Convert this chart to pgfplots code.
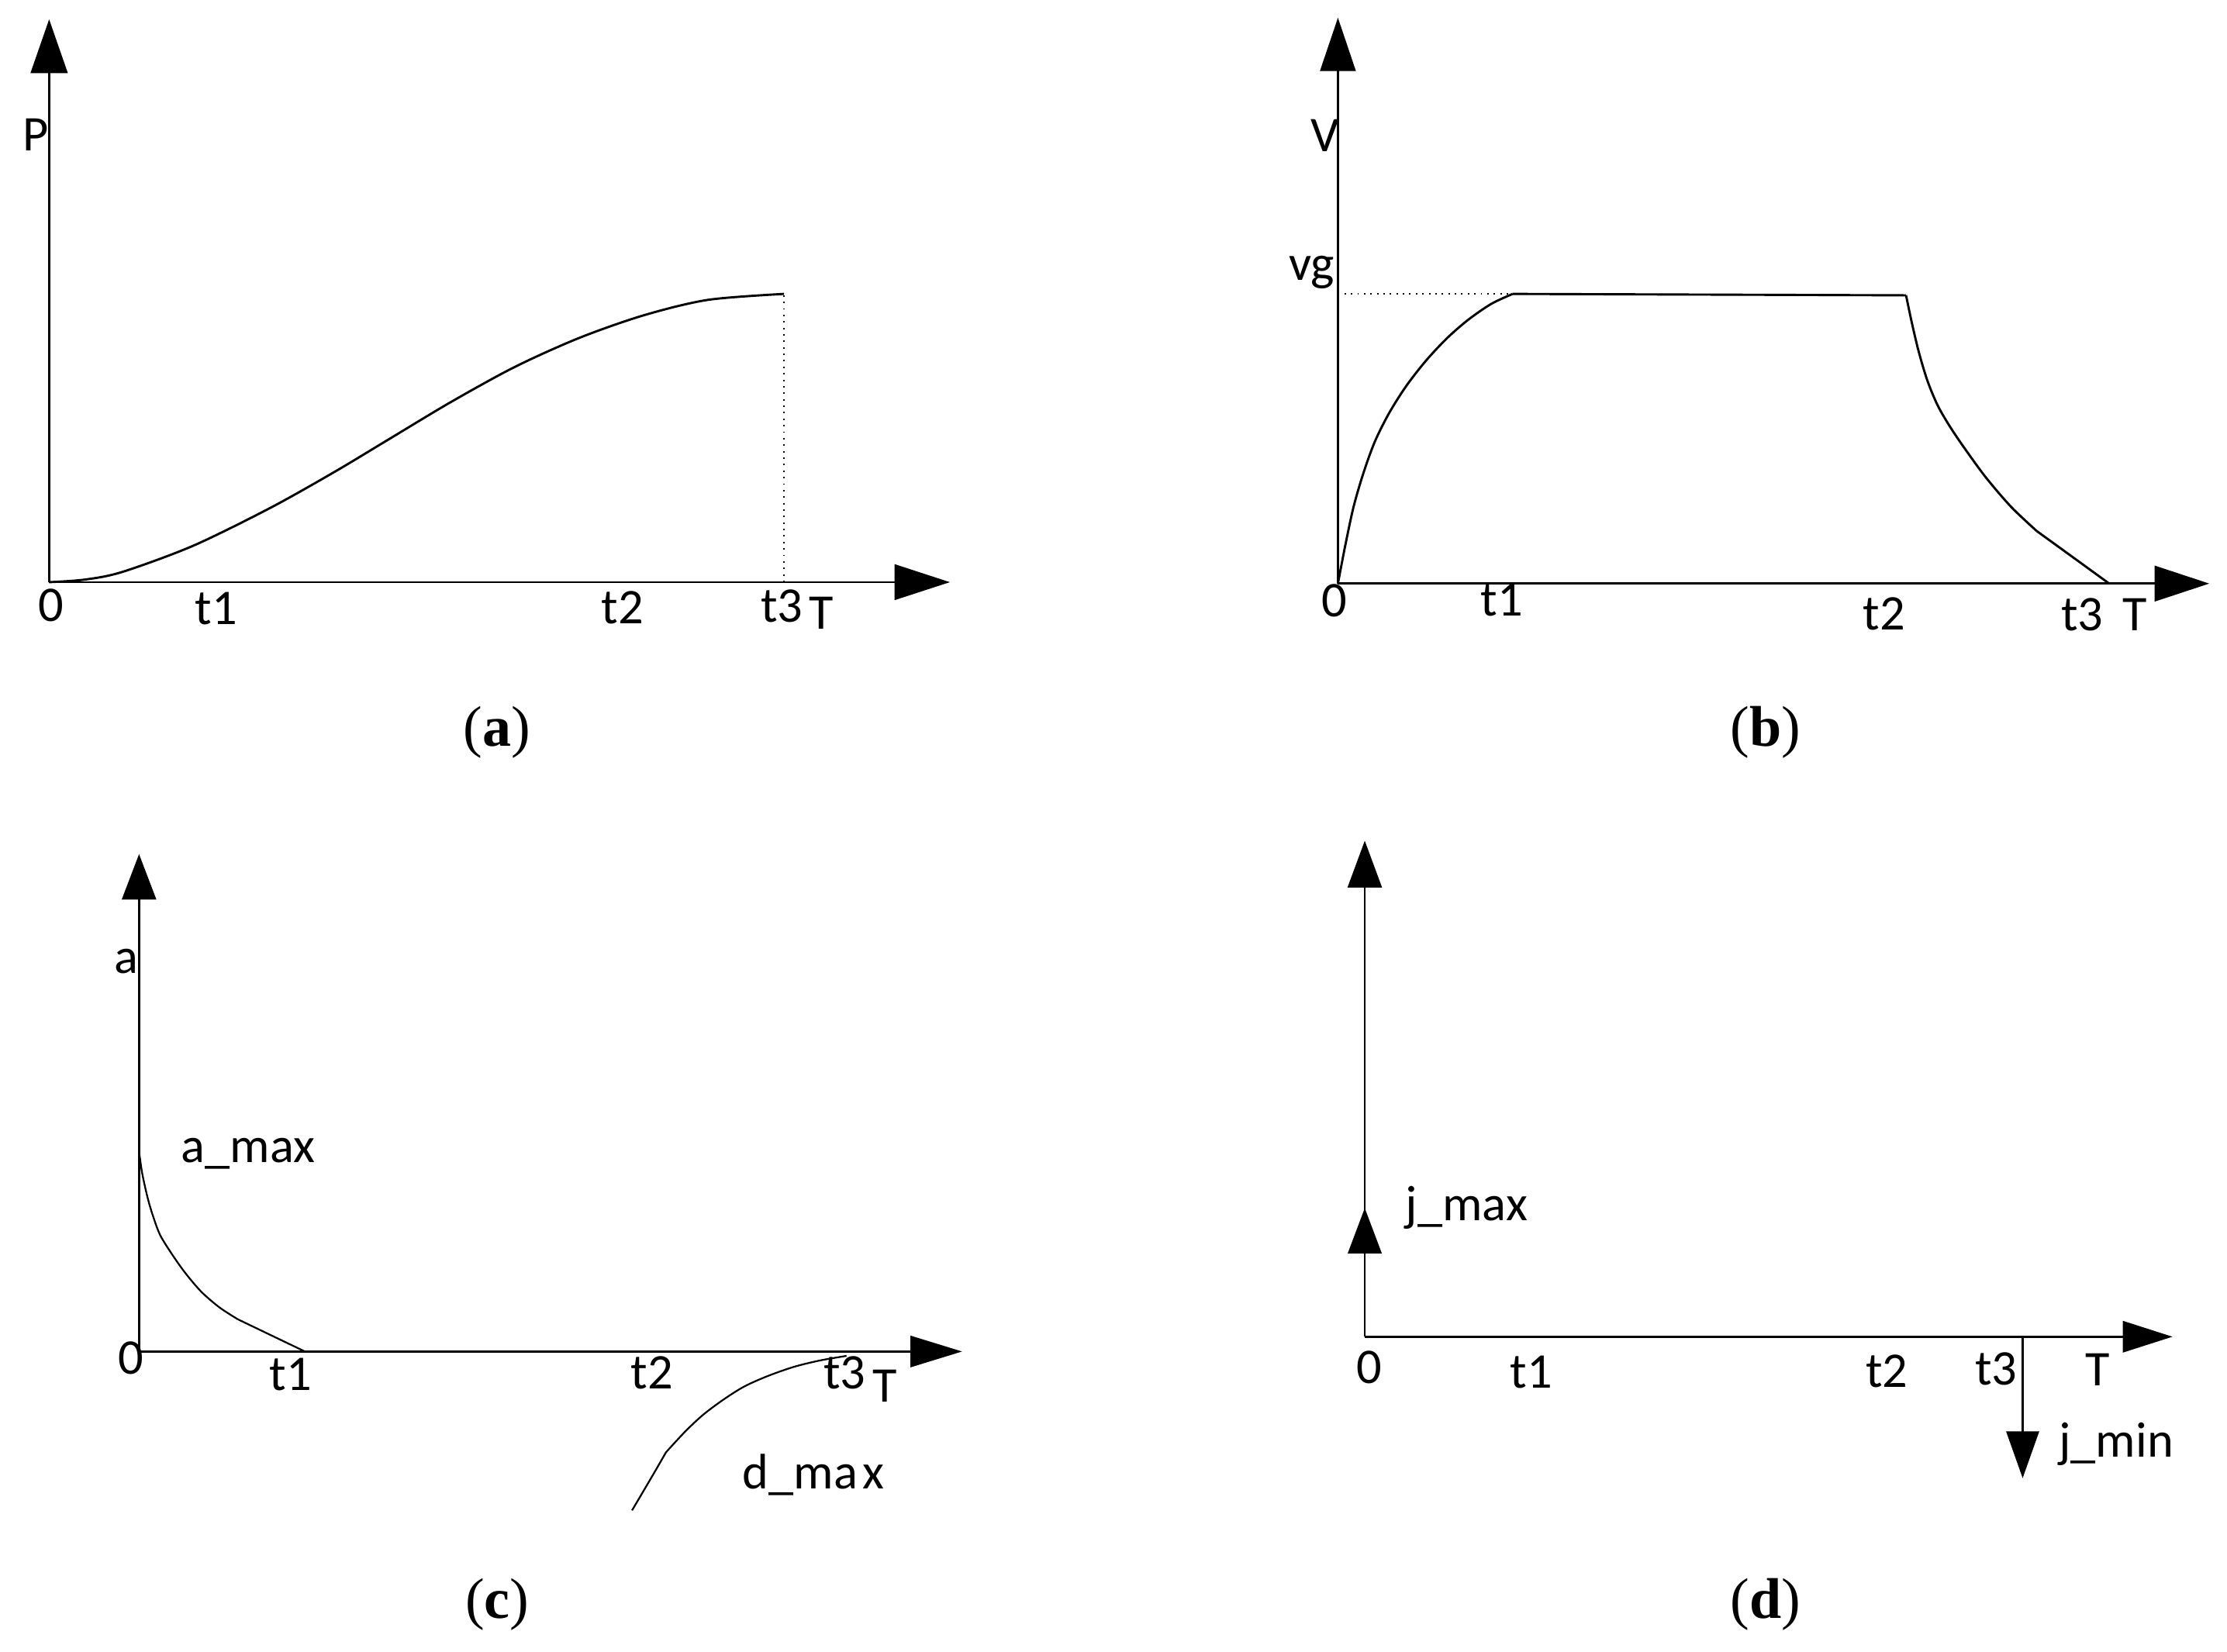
\documentclass[border=0pt]{standalone}
\usepackage{fontspec}
\setmainfont{Carlito}
\newfontfamily\capfont{Liberation Serif}
\usepackage{pgfplots}
\pgfplotsset{compat=1.18}
\usetikzlibrary{arrows.meta}

% one unit = 0.1 mm, origin of each panel at its axes crossing
\pgfplotsset{
  prof/.style={x=0.1mm, y=0.1mm, xmin=0, ymin=0, axis lines=left,
    xtick=\empty, ytick=\empty, clip=false, anchor=south west,
    axis line style={line width=0.42pt}},
  crv/.style={black, line width=0.45pt, no marks},
}
\tikzset{
  lab/.style={anchor=base, inner sep=0pt},
  capt/.style={font=\capfont\fontsize{11.5}{14}\selectfont},
}

\begin{document}
\begin{tikzpicture}
\path[use as bounding box] (0,0) rectangle (156.8mm,116.3mm);

% (a) position
\begin{axis}[prof, at={(3.46mm,75.3mm)}, xmax=634.2, ymax=396.4,
  x axis line style={-{Triangle[length=3.9mm,width=2.5mm]}},
  y axis line style={-{Triangle[length=3.8mm,width=2.6mm]}},
  every node/.append style={font=\fontsize{11}{13}\selectfont}]
\addplot[crv, smooth] coordinates {(0,0) (25,1.8) (51.5,7.2) (101.3,25.6) (155.7,52.3) (201,77.7) (237.3,99.5) (282.6,126.7) (327.9,151.6) (373.2,172) (418.5,187.9) (463.8,198.8) (517.4,203)};
\addplot[black, line width=0.3pt, densely dotted] coordinates {(517.4,0) (517.4,203)};
\node[lab] at (-9.6,304) {P};
\node[lab] at (1.6,-27.4) {0};
\node[lab] at (117.7,-29.6) {t1};
\node[lab] at (403.7,-29) {t2};
\node[lab] at (515.9,-28) {t3};
\node[lab] at (543.4,-33) {T};
\end{axis}

% (b) velocity
\begin{axis}[prof, at={(94.2mm,75.2mm)}, xmax=613.5, ymax=398.5,
  x axis line style={-{Triangle[length=3.85mm,width=2.5mm]}},
  y axis line style={-{Triangle[length=3.76mm,width=2.5mm]}},
  every node/.append style={font=\fontsize{10.5}{12.5}\selectfont}]
\addplot[crv, smooth] coordinates {(0,0) (5,26) (11,54) (18,78) (26,100) (36,120) (48,139) (62,157) (77,173) (92,186) (108,197) (123,204)};
\addplot[crv] coordinates {(123,204) (400,203)};
\addplot[crv, smooth] coordinates {(400,203) (404,184) (409,163) (415,143) (422,126) (430,112) (440,97) (456,75) (474,54) (492,37)};
\addplot[crv] coordinates {(492,37) (505,27.6) (525,13.1) (543,0)};
\addplot[black, line width=0.3pt, densely dotted] coordinates {(0,204) (123,204)};
\node[lab] at (-9.3,304.4) {V};
\node[lab] at (-18.5,213.4) {vg};
\node[lab] at (-2.4,-23.3) {0};
\node[lab] at (115.4,-23) {t1};
\node[lab] at (384.7,-32.7) {t2};
\node[lab] at (524,-33) {t3};
\node[lab] at (561,-33) {T};
\end{axis}

% (c) acceleration
\begin{axis}[prof, at={(9.79mm,21.12mm)}, xmax=579.5, ymax=350.3,
  x axis line style={-{Triangle[length=3.64mm,width=2.2mm]}},
  y axis line style={-{Triangle[length=3.2mm,width=2.4mm]}},
  every node/.append style={font=\fontsize{9.6}{11.5}\selectfont}]
\addplot[crv, line width=0.35pt, smooth] coordinates {(0,141) (2.2,125.6) (5.8,109.2) (9.5,96.4) (14.9,81.9) (24,67.3) (33.1,54.6) (44.1,41.8) (56.8,30.9) (69.5,22.7)};
\addplot[crv, line width=0.35pt] coordinates {(69.5,22.7) (93,11.4) (116.8,0)};
\addplot[crv, line width=0.35pt] coordinates {(347.1,-111.9) (355.3,-98) (364.4,-82.5) (371,-71)};
\addplot[crv, line width=0.35pt, smooth] coordinates {(371,-71) (384.4,-56.5) (397.1,-44.6) (411.7,-33.7) (426.2,-24.6) (442.6,-17.3) (460.8,-10.9) (479,-6.4) (498.1,-3.1)};
\node[lab] at (-8.9,266.4) {a};
\node[lab, anchor=base west] at (29.1,133.2) {a\_max};
\node[lab] at (-6,-16) {0};
\node[lab] at (106.8,-27.2) {t1};
\node[lab] at (361.2,-26.4) {t2};
\node[lab] at (496.8,-26.4) {t3};
\node[lab] at (525,-35.5) {T};
\node[lab, anchor=base west] at (424.4,-96.8) {d\_ma{\kern0.1em}x};
\end{axis}

% (d) jerk
\begin{axis}[prof, at={(96.09mm,22.16mm)}, xmax=568.7, ymax=349.3,
  x axis line style={-{Triangle[length=3.5mm,width=2.2mm]}},
  y axis line style={-{Triangle[length=3.3mm,width=2.4mm]}},
  every node/.append style={font=\fontsize{9.6}{11.5}\selectfont}]
\addplot[crv, line width=0.42pt, -{Triangle[length=3.2mm,width=2.37mm]}] coordinates {(0,0) (0,90.6)};
\addplot[crv, line width=0.42pt, -{Triangle[length=3.3mm,width=2.3mm]}] coordinates {(463.2,0) (463.2,-99.6)};
\node[lab, anchor=base west] at (28.2,82) {j\_max};
\node[lab] at (3.2,-32.8) {0};
\node[lab] at (117.3,-35.9) {t1};
\node[lab] at (367.6,-35.6) {t2};
\node[lab] at (444.5,-34.1) {t3};
\node[lab] at (516,-34.6) {T};
\node[lab, anchor=base west] at (488.1,-85) {j\_min};
\end{axis}

\node[capt] at (35.0mm,64.7mm) {(\textbf{a})};
\node[capt] at (124.3mm,64.7mm) {(\textbf{b})};
\node[capt] at (35.0mm,3.3mm) {(\textbf{c})};
\node[capt] at (124.3mm,3.3mm) {(\textbf{d})};
\end{tikzpicture}
\end{document}
